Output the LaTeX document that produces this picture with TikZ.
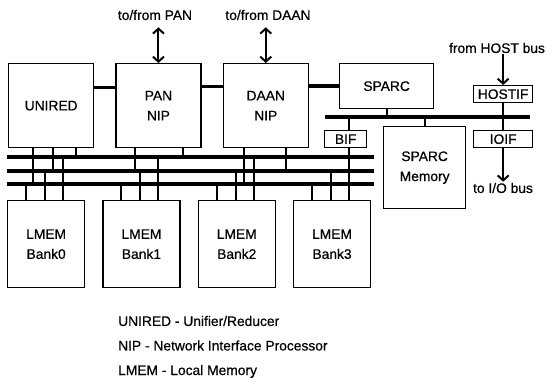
\documentclass[tikz,border=0pt]{standalone}
\usepackage{fontspec}
\setmainfont{Liberation Sans}[FakeBold=0.6]
\usepackage{tikz}
\usetikzlibrary{arrows.meta, positioning, calc}
\tikzset{
	blk/.style   ={rectangle, draw=black, line width=1.3pt, align=center, inner sep=1pt, anchor=north west},
	topblk/.style={blk, minimum width=85pt, minimum height=84pt},
	bankblk/.style={blk, minimum width=77pt, minimum height=87pt},
	ifblk/.style ={blk, minimum height=17pt},
	link/.style  ={line width=3.5pt},
	bus/.style   ={line width=3.6pt},
	port/.style  ={line width=2pt},
	sig/.style   ={-{Straight Barb[length=5pt,width=11pt]}, line width=2pt},
	dsig/.style  ={{Straight Barb[length=5pt,width=11pt]}-{Straight Barb[length=5pt,width=11pt]}, line width=2pt},
	lbl/.style   ={inner sep=1pt},
}

\begin{document}
\begin{tikzpicture}[x=1pt, y=-1pt, font=\fontsize{13.8}{20}\selectfont]
	\useasboundingbox (0,0) rectangle (547,383);
	% processing elements
	\node[topblk] (unired) at (8,63) {UNIRED};
	\node[topblk, right=21pt of unired] (pan) {PAN\\NIP};
	\node[topblk, right=21pt of pan] (daan) {DAAN\\NIP};
	\node[blk, minimum width=94pt, minimum height=45pt] (sparc) at (339,63) {SPARC};
	\node[ifblk, minimum width=59pt] (hostif) at (473,85) {HOSTIF};
	\node[ifblk, minimum width=42pt] (bif) at (324,130) {BIF};
	\node[blk, minimum width=82pt, minimum height=82pt] (mem) at (383,126) {SPARC\\Memory};
	\node[ifblk, minimum width=59pt] (ioif) at (473,130) {IOIF};
	% memory banks
	\node[bankblk] (bank0) at (7,200) {LMEM\\Bank0};
	\node[bankblk, right=17pt of bank0] (bank1) {LMEM\\Bank1};
	\node[bankblk, right=17pt of bank1] (bank2) {LMEM\\Bank2};
	\node[bankblk, right=17pt of bank2] (bank3) {LMEM\\Bank3};
	% outside world
	\node[lbl] (panlbl) at (155,15) {to/from PAN};
	\node[lbl] (daanlbl) at (268,15) {to/from DAAN};
	\node[lbl] (hostlbl) at (497,48) {from HOST bus};
	\node[lbl] (iolbl) at (503,188) {to I/O bus};
	% legend
	\node[lbl, anchor=west] (leg1) at (117,321) {UNIRED - Unifier/Reducer};
	\node[lbl, below=12pt of leg1.south west, anchor=north west] (leg2) {NIP - Network Interface Processor};
	\node[lbl, below=12pt of leg2.south west, anchor=north west] (leg3) {LMEM - Local Memory};
	% buses
	\coordinate (b1) at (7,157);  \coordinate (b1e) at (374,157);
	\coordinate (b2) at (7,171);  \coordinate (b2e) at (374,171);
	\coordinate (b3) at (7,184);  \coordinate (b3e) at (374,184);
	\coordinate (sb) at (325,117); \coordinate (sbe) at (530,117);
	\draw[bus] (b1) -- (b1e);
	\draw[bus] (b2) -- (b2e);
	\draw[bus] (b3) -- (b3e);
	\draw[bus] (sb) -- (sbe);
	\draw[link] ([yshift=18pt]unired.east) -- ([yshift=18pt]pan.west);
	\draw[link] ([yshift=19pt]pan.east) -- ([yshift=19pt]daan.west);
	\draw[link] (daan.east |- sparc.west) -- (sparc.west);
	% ports onto the memory buses
	\draw[port] ([xshift=25pt]unired.south west) -- ([xshift=25pt]unired.south west |- b3);
	\draw[port] ([xshift=45pt]unired.south west) -- ([xshift=45pt]unired.south west |- b2);
	\draw[port] ([xshift=68pt]unired.south west) -- ([xshift=68pt]unired.south west |- b1);
	\draw[port] ([xshift=20pt]pan.south west) -- ([xshift=20pt]pan.south west |- b2);
	\draw[port] ([xshift=68pt]pan.south west) -- ([xshift=68pt]pan.south west |- b1);
	\draw[port] ([xshift=21pt]daan.south west) -- ([xshift=21pt]daan.south west |- b3);
	\draw[port] ([xshift=63pt]daan.south west) -- ([xshift=63pt]daan.south west |- b2);
	\draw[port] ([xshift=3pt]bif.south) -- ([xshift=3pt]bif.south |- b1);
	\foreach \b in {0,...,3}{
		\draw[port] ([xshift=19pt]bank\b.north west) -- ([xshift=19pt]bank\b.north west |- b3);
		\draw[port] ([xshift=38pt]bank\b.north west) -- ([xshift=38pt]bank\b.north west |- b2);
		\draw[port] ([xshift=56pt]bank\b.north west) -- ([xshift=56pt]bank\b.north west |- b1);
	}
	% SPARC bus
	\draw[port] (sparc.south) -- (sparc.south |- sb);
	\draw[port] ([xshift=3pt]bif.north |- sb) -- ([xshift=3pt]bif.north);
	\draw[port] (mem.north |- sb) -- (mem.north);
	\draw[port] (hostif.south) -- (ioif.north);
	% external arrows
	\draw[dsig] ([yshift=-6pt]panlbl.south -| pan.north) -- (pan.north);
	\draw[dsig] ([yshift=-6pt]daanlbl.south -| daan.north) -- (daan.north);
	\draw[sig] (hostlbl.south -| hostif.north) -- (hostif.north);
	\draw[sig] (ioif.south) -- (ioif.south |- iolbl.north);
\end{tikzpicture}
\end{document}
